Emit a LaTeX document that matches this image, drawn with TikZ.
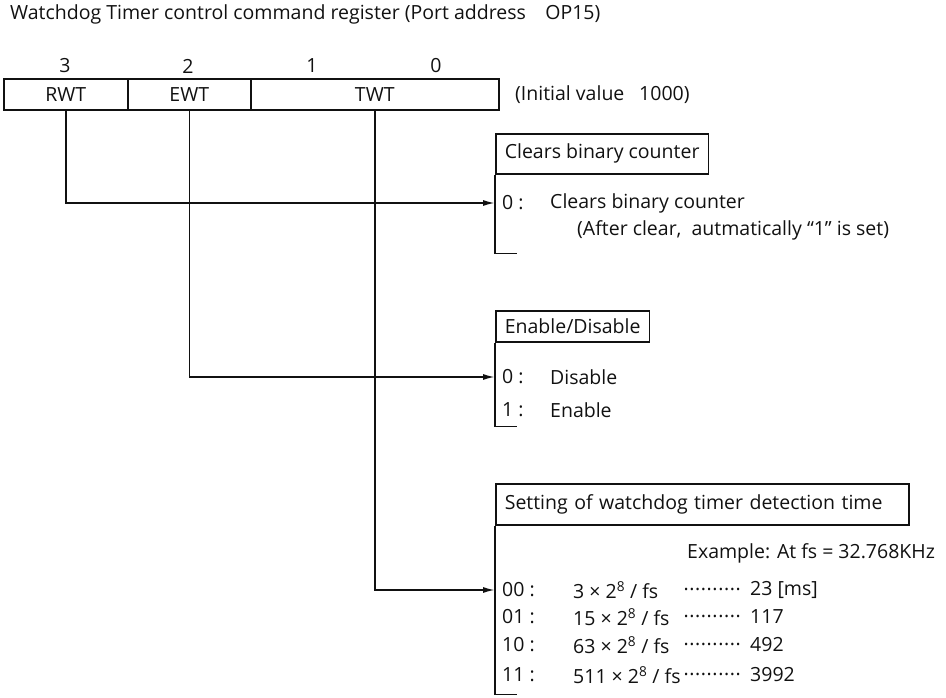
\documentclass[tikz,border=0pt]{standalone}
\usepackage{fontspec}
\setmainfont{Open Sans}
\usetikzlibrary{arrows.meta,positioning}
\definecolor{ink}{HTML}{111111}

\newcommand{\leaderrow}{\makebox[58pt]{\leaders\hbox to 5.8pt{\hss\raisebox{0.2ex}{.}\hss}\hfill}}

\begin{document}
\begin{tikzpicture}[
  x=1pt, y=-1pt,
  font=\fontsize{19.5}{23}\selectfont,
  text=ink,
  field/.style={
    draw=ink,
    line width=1.6pt,
    minimum height=31pt,
    inner sep=0pt,
    anchor=west
  },
  head/.style={
    draw=ink,
    line width=1.6pt,
    anchor=north west,
    inner xsep=9pt,
    inner ysep=0pt
  },
  rowlabel/.style={anchor=west, inner xsep=7pt, inner ysep=0pt},
  entry/.style={anchor=west, inner sep=0pt},
  bitno/.style={inner sep=0pt},
  bracket/.style={draw=ink, line width=1.6pt},
  arrow/.style={-{Latex[length=12pt,width=6pt]}, draw=ink, line width=1.6pt}
]
\useasboundingbox (0,0) rectangle (946,698);

% Register layout
\node[entry] (title) at (10,14) {Watchdog Timer control command register (Port address\quad OP15)};
\foreach \b/\x in {3/65,2/188,1/312,0/436}
  \node[bitno] (bit\b) at (\x,66) {\b};
\node[field, minimum width=124pt] (rwt) at (3,94.5) {RWT};
\node[field, minimum width=123pt] (ewt) at (127,94.5) {EWT};
\node[field, minimum width=248pt] (twt) at (250,94.5) {TWT};
\node[entry] (initval) at (515,94.5) {(Initial value\enspace\ 1000)};

% Clear
\node[head, minimum height=40pt] (clearhead) at (495,133) {Clears binary counter};
\node[rowlabel] (clear0) at (495,203) {0 :};
\node[entry] (cleartext) at (550,203) {Clears binary counter};
\node[entry] (clearnote) at (577,230) {(After clear,\ \ autmatically “1” is set)};
\draw[bracket] (clearhead.south west) -- ++(0,79) -- ++(22,0);

% Enable/Disable
\node[head, minimum height=31pt] (enablehead) at (495,310) {Enable/Disable};
\node[rowlabel] (enable0) at (495,377) {0 :};
\node[entry] (disabletext) at (550,377) {Disable};
\node[rowlabel] (enable1) at (495,410) {1 :};
\node[entry] (enabletext) at (550,410) {Enable};
\draw[bracket] (enablehead.south west) -- ++(0,84) -- ++(22,0);

% Detection time
\node[head, minimum height=41pt, text width=395pt, align=left] (timehead) at (495,483) {Setting of watchdog timer detection time};
\node[entry] (example) at (687,553) {Example: At fs = 32.768KHz};
\foreach \code/\n/\ms/\y in {00/3/23 [ms]/590, 01/15/117/617, 10/63/492/645, 11/511/3992/675} {
  \node[rowlabel] (time\code) at (495,\y) {\code{} :};
  \node[entry] (formula\code) at (573,\y) {\n{} × 2\textsuperscript{8} / fs};
  \node[entry] (dots\code) at (683,\y) {\leaderrow};
  \node[entry] (value\code) at (750,\y) {\ms};
}
\draw[bracket] (timehead.south west) -- ++(0,169) -- ++(22,0);

% Connectors
\draw[arrow] (rwt.south) |- (clear0.west);
\draw[arrow] (ewt.south) |- (enable0.west);
\draw[arrow] (twt.south) |- (time00.west);

\end{tikzpicture}
\end{document}
